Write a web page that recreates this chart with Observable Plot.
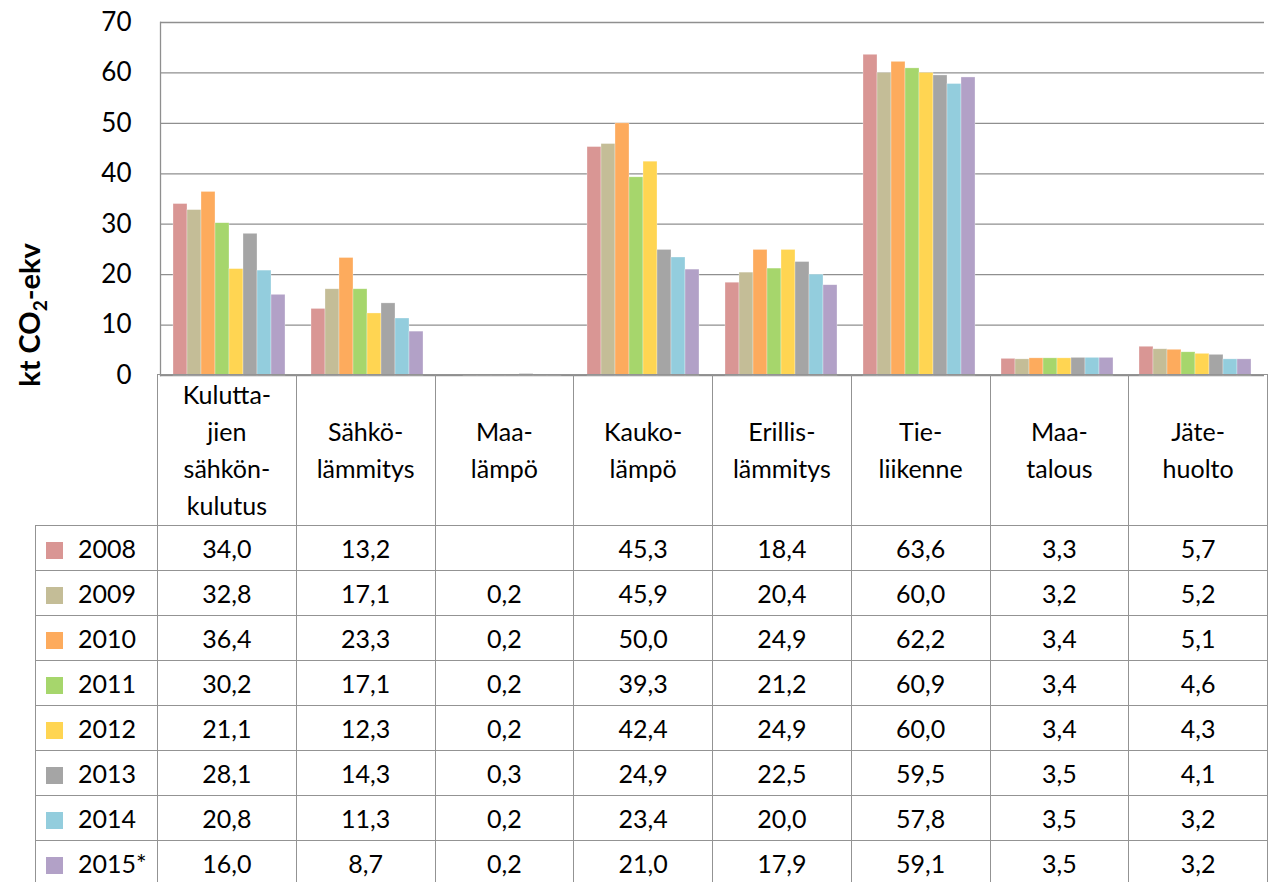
<!DOCTYPE html>
<html>
<head>
<meta charset="utf-8">
<script src="https://cdn.jsdelivr.net/npm/d3@7"></script>
<script src="https://cdn.jsdelivr.net/npm/@observablehq/plot@0.6"></script>
<style>
  html, body { margin: 0; padding: 0; background: #fff; overflow: hidden; }
  #wrap { position: relative; width: 1273px; height: 882px; font-family: Lato, "Open Sans", sans-serif; }
  #chart { position: absolute; left: 0; top: 0; }
  table.dt { position: absolute; left: 35px; top: 374px; border-collapse: collapse; table-layout: fixed;
    font-family: Lato, "Open Sans", sans-serif; font-size: 25px; color: #000; }
  table.dt td { border: 1.5px solid #939393; padding: 0; text-align: center; vertical-align: middle; }
  table.dt tr.head td { height: 150px; line-height: 37px; white-space: pre-line; }
  table.dt tr.head td.blank { border-top: none; border-left: none; }
  table.dt tr.row td { height: 44px; }
  table.dt td.leg { text-align: left; padding-left: 10px; white-space: nowrap; }
  .sw { display: inline-block; width: 17px; height: 17px; margin-right: 15px; vertical-align: -1px; }
</style>
</head>
<body>
<div id="wrap"><div id="chart"></div></div>
<script>
const categories = ["Kulutta-\njien\nsähkön-\nkulutus", "Sähkö-\nlämmitys", "Maa-\nlämpö", "Kauko-\nlämpö", "Erillis-\nlämmitys", "Tie-\nliikenne", "Maa-\ntalous", "Jäte-\nhuolto"];
const years = ["2008", "2009", "2010", "2011", "2012", "2013", "2014", "2015*"];
const colors = ["#D99694", "#C4BD97", "#FDAB5D", "#A6D66C", "#FFD552", "#A5A5A5", "#93CDDD", "#B2A1C7"];
const v2008 = [34.0, 13.2, null, 45.3, 18.4, 63.6, 3.3, 5.7];
const v2009 = [32.8, 17.1, 0.2, 45.9, 20.4, 60.0, 3.2, 5.2];
const v2010 = [36.4, 23.3, 0.2, 50.0, 24.9, 62.2, 3.4, 5.1];
const v2011 = [30.2, 17.1, 0.2, 39.3, 21.2, 60.9, 3.4, 4.6];
const v2012 = [21.1, 12.3, 0.2, 42.4, 24.9, 60.0, 3.4, 4.3];
const v2013 = [28.1, 14.3, 0.3, 24.9, 22.5, 59.5, 3.5, 4.1];
const v2014 = [20.8, 11.3, 0.2, 23.4, 20.0, 57.8, 3.5, 3.2];
const v2015 = [16.0, 8.7, 0.2, 21.0, 17.9, 59.1, 3.5, 3.2];
const yTicks = [0, 10, 20, 30, 40, 50, 60, 70];
const yLabel = ["kt CO", "2", "-ekv"];

const valuesByYear = [v2008, v2009, v2010, v2011, v2012, v2013, v2014, v2015];
const data = years.flatMap((yr, i) => categories.map((c, j) => ({category: c, year: yr, value: valuesByYear[i][j]})))
  .filter(d => d.value != null);

const chart = Plot.plot({
  width: 1273, height: 376,
  marginTop: 22, marginBottom: 1, marginLeft: 157, marginRight: 6,
  style: {fontFamily: "Lato, 'Open Sans', sans-serif", fontSize: "25px", color: "#000", background: "transparent", overflow: "visible"},
  fx: {domain: categories, padding: 0, axis: null, label: null},
  x: {domain: years, paddingInner: 0, paddingOuter: 0.75, axis: null},
  y: {domain: [0, 70], label: null},
  color: {domain: years, range: colors},
  marks: [
    Plot.gridY(yTicks, {stroke: "#8f8f8f", strokeOpacity: 1, strokeWidth: 1.3}),
    Plot.barY(data, {fx: "category", x: "year", y: "value", fill: "year", stroke: "white", strokeWidth: 0.6, strokeOpacity: 0.5}),
    Plot.axisY(yTicks, {tickSize: 0, tickPadding: 29, fontSize: 26, label: null, tickFormat: d => String(d)}),
    Plot.frame({anchor: "left", facetAnchor: "left", stroke: "#8f8f8f", strokeWidth: 1.3})
  ]
});
document.getElementById("chart").appendChild(chart);

// rotated y-axis title with subscript
const t = d3.select(chart).append("text")
  .attr("transform", "translate(40,315) rotate(-90)")
  .attr("text-anchor", "middle")
  .attr("font-weight", "bold")
  .attr("font-size", 29)
  .attr("fill", "#000");
t.append("tspan").text(yLabel[0]);
t.append("tspan").attr("font-size", 19).attr("dy", 7).text(yLabel[1]);
t.append("tspan").attr("dy", -7).text(yLabel[2]);

// data table
const fmt = v => v == null ? "" : v.toFixed(1).replace(".", ",");
const table = d3.select("#wrap").append("table").attr("class", "dt");
const cg = table.append("colgroup");
cg.append("col").style("width", "122px");
categories.forEach(() => cg.append("col").style("width", "138.75px"));
const head = table.append("tr").attr("class", "head");
head.append("td").attr("class", "blank");
categories.forEach(c => head.append("td").text(c));
years.forEach((yr, i) => {
  const tr = table.append("tr").attr("class", "row");
  const lc = tr.append("td").attr("class", "leg");
  lc.append("span").attr("class", "sw").style("background", colors[i]);
  lc.append("span").text(yr);
  valuesByYear[i].forEach(v => tr.append("td").text(fmt(v)));
});
</script>
</body>
</html>
